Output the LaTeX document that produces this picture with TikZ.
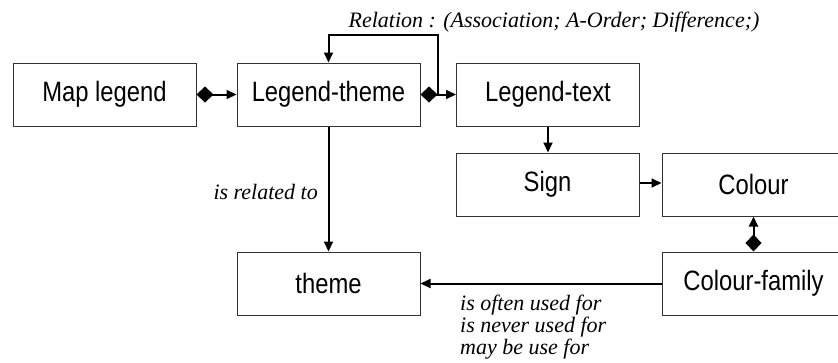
\documentclass[tikz,border=0pt]{standalone}
\usepackage{fontspec}
\setmainfont{Liberation Serif}
\setsansfont{Liberation Sans}
\usetikzlibrary{arrows.meta,calc}
\tikzset{
  box/.style={draw=black!80, line width=1pt, minimum width=183pt, minimum height=63pt, inner sep=0pt,
     font=\sffamily\fontsize{28}{30}\selectfont},
  conn/.style={draw=black, line width=2pt},
  arr/.style={conn, -{Triangle[length=10pt,width=9pt]}},
  darr/.style={conn, {Diamond[length=17pt,width=16pt]}-{Triangle[length=10pt,width=9pt]}},
  lbl/.style={font=\itshape\fontsize{22}{22}\selectfont, inner sep=0pt}
}
\newcommand{\sq}[1]{\scalebox{0.85}[1]{#1}}
\begin{document}
\begin{tikzpicture}[x=1pt,y=-1pt]
\useasboundingbox (0,0) rectangle (838,362);
\clip (0,0) rectangle (838,362);
\node[box] (ml) at (104.5,94.5) {\sq{Map legend}};
\node[box] (lt) at (328.5,94.5) {\sq{Legend-theme}};
\node[box] (ltx) at (548,94.5) {\sq{Legend-text}};
\node[box] (sg) at (547.5,184.5) {\sq{Sign}};
\node[box] (co) at (753.5,184.5) {\sq{Colour}};
\node[box] (cf) at (753.5,283.5) {\sq{Colour-family}};
\node[box] (th) at (328.5,283.5) {\sq{theme}};

\draw[darr] (ml.east) -- (lt.west);
\draw[darr] (lt.east) -- (ltx.west);
\coordinate (lp) at ($(lt.east)+(17,0)$);
\draw[arr] (lp) |- ($(lt.north)+(0,-28)$) -- (lt.north);
\draw[arr] (ltx.south) -- (ltx.south |- sg.north);
\draw[arr] (sg.east |- 0,183) -- (co.west |- 0,183);
\draw[darr] (cf.north) -- (co.south);
\draw[arr] (lt.south) -- (th.north);
\draw[arr] (cf.west) -- (th.east);

\node[lbl] (rel) at (554,22) {Relation : (Association; A-Order; Difference;)};
\node[lbl, anchor=east] (irt) at (318,192) {is related to};
\node[lbl, anchor=north west, align=left] (use) at (460,295) {is often used for\\is never used for\\may be use for};
\end{tikzpicture}
\end{document}
